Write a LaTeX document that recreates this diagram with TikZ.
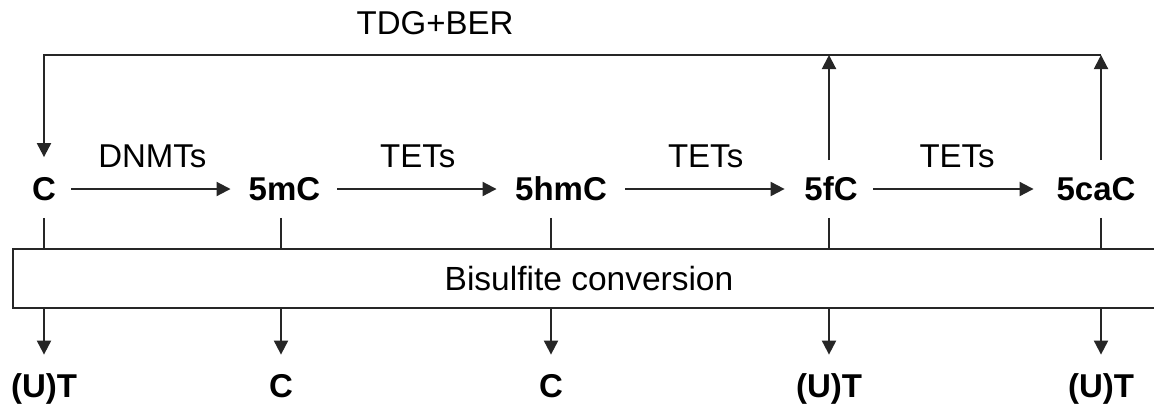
\documentclass[tikz,border=0pt]{standalone}
\usepackage{fontspec}
\setmainfont{Liberation Sans}
\usetikzlibrary{arrows.meta}
\begin{document}
\begin{tikzpicture}[x=0.5pt,y=-0.5pt,
  lbl/.style={font=\fontsize{16.5}{18}\selectfont, text height=11.8pt, text depth=0pt, inner sep=0pt},
  base/.style={lbl, font=\bfseries\fontsize{16.5}{18}\selectfont, inner xsep=7.5pt, minimum height=28.5pt},
  result/.style={lbl, font=\bfseries\fontsize{16.5}{18}\selectfont, minimum height=31pt},
  ln/.style={line width=1pt, draw=black!85},
  arr/.style={ln, -{Triangle[width=7pt,length=7pt]}},
  convbox/.style={lbl, draw=black!85, line width=1.4pt, fill=white, font=\fontsize{16.75}{18}\selectfont,
    minimum width=576pt, minimum height=29.5pt},
]
\useasboundingbox (0,0) rectangle (1154,408);
\clip (0,0) rectangle (1154,408);

% cytosine modification states
\node[base] (C)    at (44,189)    {C};
\node[base] (mC)   at (284.5,189) {5mC};
\node[base] (hmC)  at (561,189)   {5hmC};
\node[base] (fC)   at (831,189)   {5fC};
\node[base] (caC)  at (1096,189)  {5caC};

% bisulfite step
\node[convbox] (bis) at (589,278.5) {Bisulfite conversion};

% read-outs after conversion
\node[result] (r1) at (44,386)   {(U)T};
\node[result] (r2) at (281,386)  {C};
\node[result] (r3) at (551,386)  {C};
\node[result] (r4) at (829,386)  {(U)T};
\node[result] (r5) at (1101,386) {(U)T};

% enzymatic steps
\draw[arr, shorten >=1.4pt] (C) -- node[lbl, midway, yshift=16.5pt] (e1) {DNMTs} (mC);
\draw[arr, shorten <=0.8pt, shorten >=1.6pt] (mC) -- node[lbl, midway, yshift=16.5pt] (e2) {TETs} (hmC);
\draw[arr, shorten <=1.6pt, shorten >=2.2pt] (hmC) -- node[lbl, midway, yshift=16.5pt] (e3) {TETs} (fC);
\draw[arr, shorten >=3.8pt] (fC) -- node[lbl, midway, yshift=16.5pt] (e4) {TETs} (caC);

% active demethylation back to C
\coordinate (tr) at (1101,55);
\coordinate (tl) at (44,55);
\node[lbl] (ber) at (435,22.5) {TDG+BER};
\draw[arr] (caC.north -| r5.north) -- (tr);
\draw[arr] (fC.north -| r4.north) -- (r4.north |- tr);
\draw[arr, shorten >=1.5pt] (tr) -- (tl) -- (C.north);

% links into and out of the conversion box
\foreach \s/\r in {C/r1, mC/r2, hmC/r3, fC/r4, caC/r5}{
  \draw[ln] (\s.south -| \r.north) -- (\r.north |- bis.north);
  \draw[arr] (\r.north |- bis.south) -- (\r.north);
}
\end{tikzpicture}
\end{document}
